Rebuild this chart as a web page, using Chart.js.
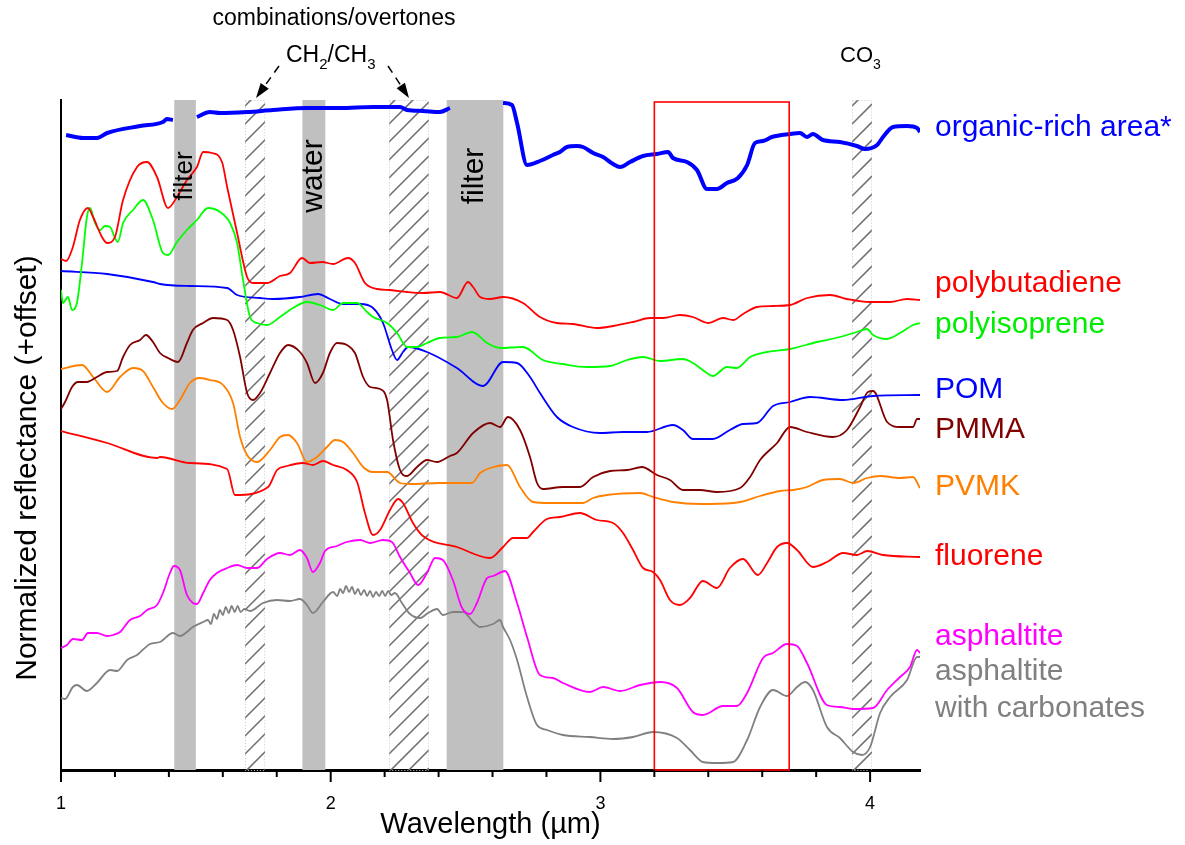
<!DOCTYPE html>
<html>
<head>
<meta charset="utf-8">
<script src="https://cdn.jsdelivr.net/npm/chart.js@4.4.0/dist/chart.umd.min.js"></script>
<style>
  body { margin: 0; background: #fff; }
</style>
</head>
<body>
<canvas id="spectra" width="1185" height="845"></canvas>
<script>
// [wavelength (um), normalized reflectance + offset (arb. units)]
const organic = [
  [1.019,635],[1.082,632],[1.133,632],[1.171,637],[1.293,644],[1.378,648],[1.393,651],[1.415,650],
  [1.46,null],
  [1.504,653],[1.552,658],[1.590,657],[1.690,658],[1.786,660],[1.912,662],[2.034,662],[2.157,663],[2.257,663],
  [2.283,660],[2.342,659],[2.405,658],[2.442,662],
  [2.55,null],
  [2.639,667],[2.672,665],[2.691,647],[2.728,605],[2.776,609],[2.824,615],[2.850,618],[2.876,623],[2.913,624],
  [2.935,623],[2.973,617],[3.010,613],[3.047,606],[3.073,603],[3.110,608],[3.158,614],[3.210,616],[3.251,618],
  [3.269,612],[3.321,608],[3.358,600],[3.395,581],[3.432,581],[3.469,587],[3.510,592],[3.544,605],[3.573,627],
  [3.603,629],[3.636,633],[3.703,636],[3.740,637],[3.766,633],[3.788,636],[3.825,630],[3.888,628],[3.951,624],
  [3.981,621],[4.026,625],[4.048,633],[4.085,643],[4.137,644],[4.174,642],[4.185,638]
];
const polybutadiene = [
  [1.000,511],[1.019,509],[1.044,523],[1.070,550],[1.100,562],[1.119,553],[1.152,533],[1.171,527],[1.200,533],
  [1.230,570],[1.282,603],[1.319,608],[1.356,593],[1.397,562],[1.430,573],[1.467,590],[1.504,603],[1.527,618],
  [1.560,617],[1.597,608],[1.616,583],[1.653,537],[1.690,493],[1.712,487],[1.764,487],[1.812,494],[1.849,497],
  [1.894,512],[1.923,507],[1.968,508],[2.009,506],[2.064,512],[2.090,507],[2.127,487],[2.172,481],[2.220,480],
  [2.283,478],[2.342,477],[2.405,478],[2.468,472],[2.509,488],[2.528,483],[2.554,473],[2.591,471],[2.639,473],
  [2.713,467],[2.776,453],[2.839,447],[2.898,446],[2.987,442],[3.047,444],[3.121,448],[3.184,452],[3.232,452],
  [3.295,455],[3.343,453],[3.399,447],[3.455,452],[3.492,450],[3.529,456],[3.581,463],[3.640,464],[3.703,465],
  [3.766,472],[3.851,475],[3.914,471],[4.000,468],[4.074,468],[4.137,471],[4.185,470]
];
const polyisoprene = [
  [1.000,480],[1.007,467],[1.026,473],[1.041,460],[1.059,467],[1.078,507],[1.096,553],[1.108,562],[1.126,547],
  [1.145,540],[1.163,544],[1.182,543],[1.200,532],[1.211,528],[1.230,547],[1.267,560],[1.304,570],[1.341,550],
  [1.378,517],[1.397,515],[1.430,528],[1.467,540],[1.504,550],[1.545,562],[1.590,558],[1.627,547],[1.653,527],
  [1.675,490],[1.701,453],[1.727,447],[1.764,445],[1.812,453],[1.860,462],[1.912,468],[1.960,465],[2.009,460],
  [2.046,467],[2.098,467],[2.135,458],[2.157,453],[2.209,447],[2.246,437],[2.283,423],[2.320,423],[2.357,427],
  [2.405,432],[2.468,433],[2.524,438],[2.580,427],[2.628,422],[2.713,423],[2.787,410],[2.861,406],[2.950,403],
  [3.036,404],[3.099,410],[3.158,413],[3.221,409],[3.306,411],[3.343,407],[3.395,397],[3.417,394],[3.469,403],
  [3.506,402],[3.555,413],[3.618,418],[3.703,421],[3.803,428],[3.888,433],[3.951,438],[3.989,441],[4.011,435],
  [4.063,431],[4.111,437],[4.159,445],[4.185,447]
];
const pom = [
  [1.000,499],[1.171,496],[1.341,488],[1.367,486],[1.478,484],[1.616,482],[1.653,475],[1.738,472],[1.786,471],
  [1.886,473],[1.953,476],[1.997,471],[2.046,466],[2.109,466],[2.157,462],[2.194,447],[2.227,420],[2.246,410],
  [2.268,418],[2.287,423],[2.357,418],[2.468,402],[2.565,384],[2.639,408],[2.691,407],[2.739,393],[2.776,377],
  [2.839,353],[2.898,343],[2.999,337],[3.084,338],[3.173,338],[3.269,345],[3.306,340],[3.343,331],[3.417,331],
  [3.480,340],[3.529,346],[3.581,347],[3.640,364],[3.703,368],[3.777,373],[3.900,370],[4.011,374],[4.185,375]
];
const pmma = [
  [1.000,361],[1.015,368],[1.041,383],[1.063,388],[1.096,388],[1.133,393],[1.171,398],[1.208,399],[1.230,413],
  [1.256,425],[1.293,430],[1.315,435],[1.341,428],[1.367,417],[1.397,412],[1.434,408],[1.467,427],[1.489,440],
  [1.527,447],[1.564,452],[1.616,450],[1.638,440],[1.664,413],[1.690,377],[1.712,370],[1.738,377],[1.775,397],
  [1.812,417],[1.842,425],[1.886,418],[1.912,407],[1.942,387],[1.971,397],[1.997,417],[2.023,427],[2.060,425],
  [2.090,417],[2.120,393],[2.146,383],[2.183,381],[2.209,370],[2.231,330],[2.257,300],[2.283,294],[2.320,303],
  [2.357,310],[2.394,308],[2.442,314],[2.468,317],[2.528,337],[2.591,347],[2.628,343],[2.657,353],[2.702,340],
  [2.739,313],[2.765,287],[2.787,281],[2.861,283],[2.924,283],[2.973,293],[3.036,299],[3.099,300],[3.154,303],
  [3.210,295],[3.258,290],[3.306,280],[3.369,280],[3.432,278],[3.518,282],[3.555,293],[3.592,310],[3.655,327],
  [3.703,343],[3.766,338],[3.862,333],[3.914,340],[3.963,363],[3.992,378],[4.011,379],[4.063,348],[4.111,343],
  [4.159,343],[4.174,351],[4.185,351]
];
const pvmk = [
  [1.000,401],[1.078,405],[1.119,393],[1.171,378],[1.219,393],[1.267,402],[1.304,399],[1.341,383],[1.378,367],
  [1.412,361],[1.441,370],[1.478,387],[1.515,392],[1.552,390],[1.601,385],[1.638,367],[1.664,333],[1.690,315],
  [1.727,308],[1.775,320],[1.812,333],[1.842,335],[1.875,327],[1.912,308],[1.949,313],[1.986,323],[2.016,330],
  [2.046,328],[2.083,317],[2.120,303],[2.157,298],[2.209,298],[2.257,287],[2.294,286],[2.405,287],[2.524,287],
  [2.554,297],[2.591,302],[2.654,305],[2.702,283],[2.750,268],[2.813,267],[2.935,267],[2.973,272],[3.024,275],
  [3.147,277],[3.195,273],[3.269,268],[3.369,266],[3.492,267],[3.518,268],[3.592,274],[3.666,279],[3.714,280],
  [3.766,283],[3.825,290],[3.888,291],[3.937,287],[3.989,292],[4.037,294],[4.111,292],[4.159,293],[4.185,282]
];
const fluorene = [
  [1.000,339],[1.171,327],[1.356,312],[1.367,313],[1.478,307],[1.616,301],[1.645,275],[1.768,283],[1.801,300],
  [1.838,304],[1.897,307],[1.934,305],[1.971,309],[2.009,305],[2.060,300],[2.098,288],[2.127,257],[2.157,235],
  [2.183,240],[2.220,260],[2.250,271],[2.268,267],[2.305,247],[2.342,234],[2.468,223],[2.591,212],[2.639,223],
  [2.676,232],[2.728,232],[2.750,238],[2.802,251],[2.850,253],[2.924,257],[2.987,250],[3.047,247],[3.084,237],
  [3.121,220],[3.158,202],[3.195,198],[3.221,190],[3.258,170],[3.295,165],[3.332,172],[3.380,189],[3.432,182],
  [3.480,202],[3.529,211],[3.584,195],[3.618,207],[3.655,223],[3.692,227],[3.729,220],[3.788,203],[3.840,208],
  [3.900,217],[3.951,215],[3.989,219],[4.048,215],[4.185,213]
];
const asphaltite = [
  [1.000,122],[1.022,125],[1.044,131],[1.078,130],[1.100,137],[1.133,137],[1.171,134],[1.193,135],[1.219,138],
  [1.256,150],[1.293,154],[1.319,160],[1.356,165],[1.378,177],[1.404,197],[1.419,204],[1.441,200],[1.467,175],
  [1.489,167],[1.504,166],[1.527,177],[1.552,190],[1.578,197],[1.616,202],[1.653,205],[1.690,202],[1.727,202],
  [1.764,211],[1.812,217],[1.849,215],[1.886,220],[1.912,212],[1.934,198],[1.960,207],[1.979,219],[2.023,224],
  [2.060,228],[2.109,230],[2.146,227],[2.194,230],[2.227,228],[2.257,213],[2.294,197],[2.324,185],[2.357,197],
  [2.387,212],[2.416,210],[2.453,190],[2.487,162],[2.517,156],[2.542,167],[2.580,192],[2.602,194],[2.646,199],
  [2.691,167],[2.728,133],[2.776,95],[2.824,92],[2.861,87],[2.961,78],[3.010,83],[3.073,79],[3.147,85],
  [3.221,88],[3.284,82],[3.343,58],[3.380,55],[3.455,64],[3.506,64],[3.544,77],[3.603,112],[3.640,117],
  [3.692,126],[3.729,124],[3.766,107],[3.840,65],[3.888,63],[3.937,61],[4.011,62],[4.063,80],[4.111,93],
  [4.148,103],[4.174,120],[4.185,117]
];
const carbonates = [
  [1.000,72],[1.015,71],[1.044,83],[1.059,85],[1.096,79],[1.133,87],[1.182,100],[1.208,99],[1.245,110],
  [1.282,115],[1.330,126],[1.367,128],[1.415,137],[1.441,134],[1.489,143],[1.527,148],[1.545,150],[1.556,146],
  [1.567,156],[1.578,151],[1.589,160],[1.600,155],[1.611,163],[1.622,157],[1.633,164],[1.644,158],[1.655,164],
  [1.666,158],[1.680,161],[1.701,159],[1.749,167],[1.801,170],[1.849,169],[1.886,171],[1.912,165],[1.934,157],
  [1.971,168],[2.009,178],[2.024,174],[2.035,181],[2.046,177],[2.057,184],[2.068,178],[2.079,183],[2.090,176],
  [2.101,181],[2.112,175],[2.124,180],[2.135,174],[2.146,179],[2.157,173],[2.168,178],[2.180,174],[2.191,179],
  [2.202,174],[2.213,179],[2.224,175],[2.238,177],[2.264,167],[2.294,156],[2.331,152],[2.361,157],[2.394,161],
  [2.416,155],[2.453,158],[2.491,158],[2.528,148],[2.554,143],[2.602,146],[2.628,150],[2.639,143],[2.665,130],
  [2.691,110],[2.728,73],[2.765,45],[2.802,40],[2.861,35],[2.961,33],[3.047,31],[3.121,33],[3.195,38],
  [3.284,32],[3.332,20],[3.380,8],[3.432,7],[3.492,8],[3.544,30],[3.592,63],[3.640,80],[3.692,74],[3.729,83],
  [3.759,88],[3.788,80],[3.840,43],[3.888,32],[3.937,18],[3.970,15],[4.000,23],[4.037,57],[4.074,73],
  [4.137,90],[4.174,113],[4.185,113]
];

// shaded regions (um)
const filterBands = [[1.42, 1.50], [1.895, 1.98], [2.43, 2.64]];
const bandNames = ['filter', 'water', 'filter'];
const hatchBands = [[1.682, 1.757], [2.216, 2.364], [3.933, 4.007]];
const focusBox = [3.2, 3.7];
const xTickLabels = [1, 2, 3, 4];

// right hand labels: text, colour, baseline level (data units)
const labelTexts = ['organic-rich area*', 'polybutadiene', 'polyisoprene', 'POM', 'PMMA', 'PVMK', 'fluorene',
  'asphaltite', 'asphaltite', 'with carbonates'];
const labelColors = ['#0000ff', '#ff0000', '#00ee00', '#0000ff', '#800000', '#ff8000', '#ff0000',
  '#ff00ff', '#808080', '#808080'];
const labelLevels = [634, 478, 437, 372, 332, 275, 205, 125, 90, 53];

const FONT = "'Liberation Sans', Arial, sans-serif";

function pts(pairs) {
  return pairs.map(p => ({x: p[0], y: p[1]}));
}

function line(data, color, width) {
  return {data: pts(data), borderColor: color, borderWidth: width, pointRadius: 0, fill: false,
    cubicInterpolationMode: 'monotone'};
}

function arrow(ctx, x0, y0, x1, y1) {
  const ang = Math.atan2(y1 - y0, x1 - x0);
  const hl = 15, hw = 5;
  const bx = x1 - hl * Math.cos(ang), by = y1 - hl * Math.sin(ang);
  ctx.setLineDash([8, 6]);
  ctx.beginPath();
  ctx.moveTo(x0, y0);
  ctx.lineTo(bx, by);
  ctx.stroke();
  ctx.setLineDash([]);
  ctx.beginPath();
  ctx.moveTo(x1, y1);
  ctx.lineTo(bx + hw * Math.sin(ang), by - hw * Math.cos(ang));
  ctx.lineTo(bx - hw * Math.sin(ang), by + hw * Math.cos(ang));
  ctx.closePath();
  ctx.fill();
}

const decorations = {
  id: 'decorations',
  beforeDatasetsDraw(chart) {
    const {ctx, chartArea: a, scales: {x}} = chart;
    ctx.save();
    ctx.fillStyle = '#c0c0c0';
    filterBands.forEach(b => {
      const x0 = x.getPixelForValue(b[0]), x1 = x.getPixelForValue(b[1]);
      ctx.fillRect(x0, a.top, x1 - x0, a.bottom - a.top);
    });
    hatchBands.forEach(b => {
      const x0 = x.getPixelForValue(b[0]), x1 = x.getPixelForValue(b[1]);
      const w = x1 - x0;
      ctx.save();
      ctx.beginPath();
      ctx.rect(x0, a.top, w, a.bottom - a.top);
      ctx.clip();
      ctx.strokeStyle = '#707070';
      ctx.lineWidth = 1.6;
      for (let yy = a.top + 6; yy < a.bottom + w; yy += 18) {
        ctx.beginPath();
        ctx.moveTo(x0, yy);
        ctx.lineTo(x1, yy - w);
        ctx.stroke();
      }
      ctx.restore();
      ctx.strokeStyle = '#c8c8c8';
      ctx.lineWidth = 1;
      ctx.setLineDash([1, 2]);
      ctx.strokeRect(x0 + 0.5, a.top + 0.5, w - 1, a.bottom - a.top);
      ctx.setLineDash([]);
    });
    ctx.restore();
  },
  afterDatasetsDraw(chart) {
    const {ctx, chartArea: a, scales: {x, y}} = chart;
    ctx.save();

    // band names, rotated
    ctx.fillStyle = '#000';
    ctx.textAlign = 'center';
    ctx.textBaseline = 'middle';
    filterBands.forEach((b, i) => {
      const cx = x.getPixelForValue((b[0] + b[1]) / 2);
      ctx.save();
      ctx.translate(cx, y.getPixelForValue(594));
      ctx.rotate(-Math.PI / 2);
      ctx.font = (i === 0 ? 26 : 30) + 'px ' + FONT;
      ctx.fillText(bandNames[i], 0, 0);
      ctx.restore();
    });

    // region of interest
    ctx.strokeStyle = '#ff0000';
    ctx.lineWidth = 1.6;
    const bx0 = x.getPixelForValue(focusBox[0]), bx1 = x.getPixelForValue(focusBox[1]);
    const by0 = y.getPixelForValue(668), by1 = y.getPixelForValue(0);
    ctx.strokeRect(bx0, by0, bx1 - bx0, by1 - by0);

    // x tick marks (major every 1, minor every 0.2) and labels
    ctx.strokeStyle = '#000';
    ctx.lineWidth = 2;
    for (let i = 0; i <= 16; i++) {
      const px = x.getPixelForValue(1 + i * 0.2);
      if (px > a.right + 1) break;
      const len = i % 5 === 0 ? 12 : 7;
      ctx.beginPath();
      ctx.moveTo(px, a.bottom);
      ctx.lineTo(px, a.bottom + len);
      ctx.stroke();
    }
    ctx.font = '18px ' + FONT;
    xTickLabels.forEach(v => ctx.fillText(String(v), x.getPixelForValue(v), a.bottom + 34));

    // y axis title
    ctx.save();
    ctx.translate(28, 468);
    ctx.rotate(-Math.PI / 2);
    ctx.font = '30px ' + FONT;
    ctx.fillText('Normalized reflectance (+offset)', 0, 0);
    ctx.restore();

    // top annotations
    ctx.font = '23px ' + FONT;
    ctx.fillText('combinations/overtones', 334, 19);
    ctx.textAlign = 'left';
    ctx.textBaseline = 'alphabetic';
    let cx = 286;
    [['CH', 23, 62], ['2', 15, 69], ['/CH', 23, 62], ['3', 15, 69]].forEach(p => {
      ctx.font = p[1] + 'px ' + FONT;
      ctx.fillText(p[0], cx, p[2]);
      cx += ctx.measureText(p[0]).width;
    });
    cx = 840;
    [['CO', 22, 62], ['3', 14, 69]].forEach(p => {
      ctx.font = p[1] + 'px ' + FONT;
      ctx.fillText(p[0], cx, p[2]);
      cx += ctx.measureText(p[0]).width;
    });
    ctx.strokeStyle = '#000';
    ctx.fillStyle = '#000';
    ctx.lineWidth = 1.5;
    arrow(ctx, 279, 66, 256, 98);
    arrow(ctx, 388, 66, 409, 98);

    // series labels
    ctx.font = '30px ' + FONT;
    labelTexts.forEach((t, i) => {
      ctx.fillStyle = labelColors[i];
      ctx.fillText(t, a.right + 15, y.getPixelForValue(labelLevels[i]));
    });
    ctx.restore();
  }
};

new Chart(document.getElementById('spectra'), {
  type: 'line',
  data: {
    datasets: [
      line(organic, '#0000ff', 4),
      line(polybutadiene, '#ff0000', 1.8),
      line(polyisoprene, '#00ff00', 1.8),
      line(pom, '#0000ff', 1.8),
      line(pmma, '#800000', 1.8),
      line(pvmk, '#ff8000', 1.8),
      line(fluorene, '#ff0000', 1.8),
      line(asphaltite, '#ff00ff', 1.8),
      line(carbonates, '#808080', 1.8)
    ]
  },
  options: {
    responsive: false,
    animation: false,
    devicePixelRatio: 1,
    spanGaps: false,
    layout: {padding: {left: 0, right: 265, top: 100, bottom: 0}},
    plugins: {legend: {display: false}, tooltip: {enabled: false}},
    scales: {
      x: {
        type: 'linear', min: 1, max: 4.185,
        grid: {display: false, drawTicks: false},
        border: {color: '#000', width: 3},
        ticks: {display: false},
        title: {display: true, text: 'Wavelength (µm)', color: '#000', font: {family: FONT, size: 29},
          padding: {top: 0, bottom: 3}},
        afterFit: s => { s.height = 75; }
      },
      y: {
        type: 'linear', min: 0, max: 670,
        grid: {display: false, drawTicks: false},
        border: {color: '#000', width: 2},
        ticks: {display: false},
        afterFit: s => { s.width = 61; }
      }
    }
  },
  plugins: [decorations]
});
</script>
</body>
</html>
